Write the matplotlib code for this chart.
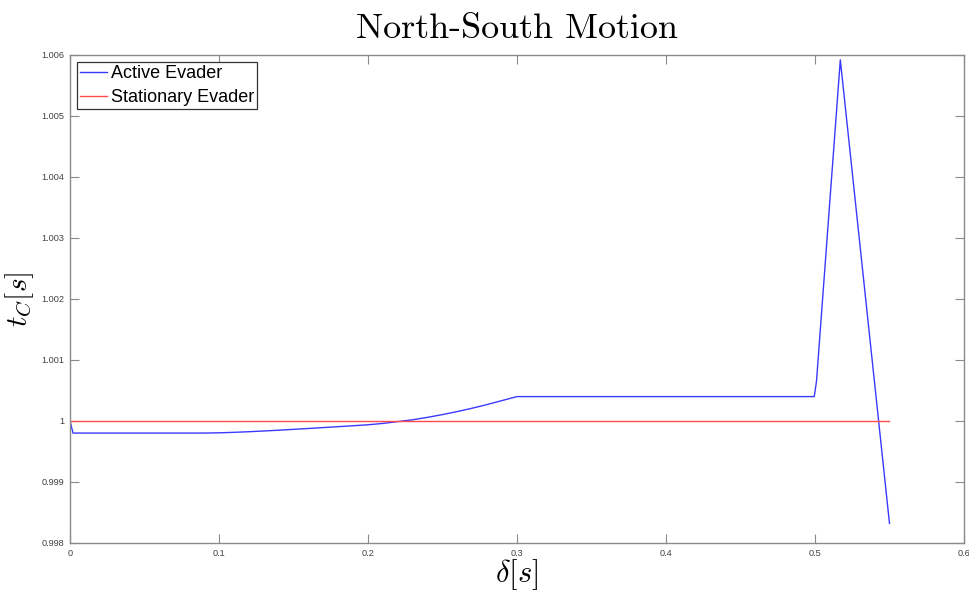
import matplotlib
matplotlib.use("Agg")
import matplotlib.pyplot as plt
from matplotlib.ticker import FuncFormatter, MultipleLocator

plt.rcParams['mathtext.fontset'] = 'cm'

# Active evader: capture time vs delta
delta_active = [0.0, 0.002, 0.05, 0.09, 0.10, 0.11, 0.12, 0.13, 0.14, 0.15,
                0.16, 0.17, 0.18, 0.19, 0.20, 0.21, 0.22, 0.23, 0.24, 0.25,
                0.26, 0.27, 0.28, 0.29, 0.30, 0.40, 0.4995, 0.501, 0.517, 0.55]
tc_active = [1.0, 0.999802, 0.999802, 0.999802, 0.999806, 0.999814, 0.999824, 0.999836,
             0.999849, 0.999863, 0.999877, 0.999892, 0.999907, 0.999922, 0.999938,
             0.99996, 0.99999, 1.00002, 1.00006, 1.000105, 1.000155, 1.00021,
             1.00027, 1.000335, 1.0004, 1.0004, 1.0004, 1.00065, 1.00592, 0.99832]

# Stationary evader
delta_stat = [0.0, 0.55]
tc_stat = [1.0, 1.0]

fig = plt.figure(figsize=(9.7, 5.92), dpi=100)
ax = fig.add_axes([0.0722, 0.0828, 0.9216, 0.8243])

ax.plot(delta_active, tc_active, color='#3a3aff', lw=1.0, label='Active Evader')
ax.plot(delta_stat, tc_stat, color='#ff4a4a', lw=1.0, label='Stationary Evader')

ax.set_xlim(0, 0.6)
ax.set_ylim(0.998, 1.006)
ax.xaxis.set_major_locator(MultipleLocator(0.1))
ax.yaxis.set_major_locator(MultipleLocator(0.001))
fmt = FuncFormatter(lambda v, p: '%g' % round(v, 6))
ax.xaxis.set_major_formatter(fmt)
ax.yaxis.set_major_formatter(fmt)

axcol = '#8a8a8a'
for s in ax.spines.values():
    s.set_color(axcol)
    s.set_linewidth(1.0)
ax.tick_params(direction='in', length=6.5, width=0.8, color=axcol,
               top=True, right=True, labelsize=6.6, labelcolor='#404040')
ax.tick_params(axis='y', pad=4)
ax.tick_params(axis='x', pad=4)
for lab in ax.get_xticklabels() + ax.get_yticklabels():
    lab.set_fontfamily('Liberation Sans')

ax.set_title('North-South Motion', fontfamily='cmr10', fontsize=26, pad=12)
ax.set_xlabel(r'$\delta[s]$', fontsize=22, labelpad=0)
ax.set_ylabel(r'$t_C[s]$', fontsize=21, labelpad=4)

leg = ax.legend(loc='upper left', handlelength=1.5,
                handletextpad=0.2, borderaxespad=0.4, borderpad=0.15,
                labelspacing=0.4, fancybox=False, framealpha=1,
                prop={'family': 'Liberation Sans', 'size': 13})
leg.get_frame().set_edgecolor('#333333')
leg.get_frame().set_linewidth(0.9)

fig.savefig('out.png', dpi=100)
